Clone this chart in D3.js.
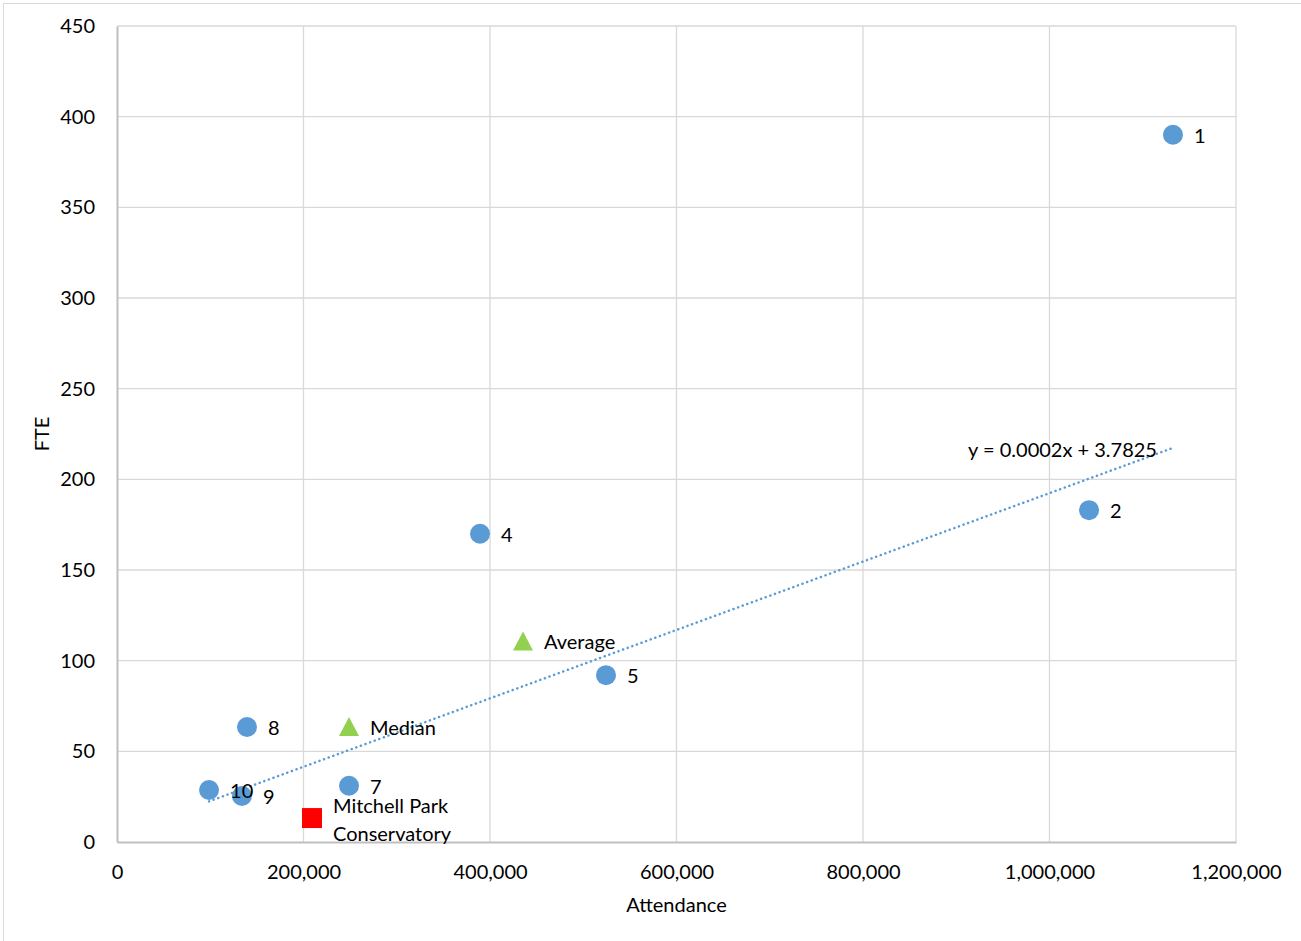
<!DOCTYPE html>
<meta charset="utf-8">
<title>FTE vs Attendance</title>
<script src="https://d3js.org/d3.v7.min.js"></script>
<style>
  body { margin: 0; background: #fff; }
  text { font-family: Lato, "Open Sans", sans-serif; fill: #000; }
</style>
<body>
<div id="chart"></div>
<script>

// peer institutions (attendance, FTE), labelled by rank
var peerLabels = ["1", "2", "4", "5", "8", "7", "10", "9"];
var peerAttendance = [1132400, 1042400, 389300, 524400, 139400, 248800, 98700, 134000];
var peerFTE = [390, 183, 170, 92, 63.4, 31, 28.7, 25.4];

// summary points
var statLabels = ["Average", "Median"];
var statAttendance = [435400, 248800];
var statFTE = [110.6, 63.4];

// the subject
var subjectLabel = ["Mitchell Park", "Conservatory"];
var subjectAttendance = 209100;
var subjectFTE = 13.2;

// linear trend
var trendSlope = 0.0001886, trendIntercept = 3.7825;
var trendText = "y = 0.0002x + 3.7825";

var xTicks = [0, 200000, 400000, 600000, 800000, 1000000, 1200000];
var yTicks = [0, 50, 100, 150, 200, 250, 300, 350, 400, 450];

var margin = { top: 26, right: 65, bottom: 99, left: 117 },
    width = 1301 - margin.left - margin.right,
    height = 941 - margin.top - margin.bottom;

var svgRoot = d3.select("#chart")
    .append("svg")
    .attr("width", 1301)
    .attr("height", 941);

// chart frame
svgRoot.append("rect")
    .attr("x", 3.5).attr("y", 3.5)
    .attr("width", 1310).attr("height", 950)
    .attr("fill", "none")
    .attr("stroke", "#d9d9d9");

var svg = svgRoot.append("g")
    .attr("transform", "translate(" + margin.left + "," + margin.top + ")");

var x = d3.scaleLinear().domain([0, 1200000]).range([0, width]);
var y = d3.scaleLinear().domain([0, 450]).range([height, 0]);

// gridlines
svg.append("g")
    .selectAll("line.v")
    .data(xTicks.slice(1))
    .enter().append("line")
    .attr("x1", function (d) { return x(d); })
    .attr("x2", function (d) { return x(d); })
    .attr("y1", 0).attr("y2", height)
    .attr("stroke", "#d9d9d9").attr("stroke-width", 1.3);

svg.append("g")
    .selectAll("line.h")
    .data(yTicks.slice(1))
    .enter().append("line")
    .attr("x1", 0).attr("x2", width)
    .attr("y1", function (d) { return y(d); })
    .attr("y2", function (d) { return y(d); })
    .attr("stroke", "#d9d9d9").attr("stroke-width", 1.3);

// axes
var fmt = d3.format(",");
var xAxis = svg.append("g")
    .attr("transform", "translate(0," + height + ")")
    .call(d3.axisBottom(x).tickValues(xTicks).tickFormat(fmt).tickSize(0).tickPadding(23));
var yAxis = svg.append("g")
    .call(d3.axisLeft(y).tickValues(yTicks).tickSize(0).tickPadding(22));

[xAxis, yAxis].forEach(function (a) {
    a.select(".domain").attr("stroke", "#bfbfbf").attr("stroke-width", 2);
    a.selectAll("text").style("font-size", "20px").attr("fill", "#000");
});

// axis titles
svg.append("text")
    .attr("x", width / 2).attr("y", height + 70)
    .attr("text-anchor", "middle")
    .style("font-size", "20px")
    .text("Attendance");

svg.append("text")
    .attr("transform", "translate(-68," + (height / 2) + ") rotate(-90)")
    .attr("text-anchor", "middle")
    .style("font-size", "20px")
    .text("FTE");

// trendline over the peer range
var xMin = d3.min(peerAttendance), xMax = d3.max(peerAttendance);
svg.append("line")
    .attr("x1", x(xMin)).attr("y1", y(trendSlope * xMin + trendIntercept))
    .attr("x2", x(xMax)).attr("y2", y(trendSlope * xMax + trendIntercept))
    .attr("stroke", "#5b9bd5")
    .attr("stroke-width", 2.5)
    .attr("stroke-linecap", "round")
    .attr("stroke-dasharray", "0.1 4.8");

svg.append("text")
    .attr("x", x(xMax) - 16).attr("y", y(trendSlope * xMax + trendIntercept) + 9)
    .attr("text-anchor", "end")
    .style("font-size", "20px")
    .text(trendText);

// peer points
var peers = peerLabels.map(function (l, i) {
    return { label: l, x: peerAttendance[i], y: peerFTE[i] };
});
svg.append("g").selectAll("circle")
    .data(peers).enter()
    .append("circle")
    .attr("cx", function (d) { return x(d.x); })
    .attr("cy", function (d) { return y(d.y); })
    .attr("r", 10)
    .attr("fill", "#5b9bd5");

svg.append("g").selectAll("text")
    .data(peers).enter()
    .append("text")
    .attr("x", function (d) { return x(d.x) + 21; })
    .attr("y", function (d) { return y(d.y) + 8; })
    .style("font-size", "20px")
    .text(function (d) { return d.label; });

// average / median
var stats = statLabels.map(function (l, i) {
    return { label: l, x: statAttendance[i], y: statFTE[i] };
});
svg.append("g").selectAll("path")
    .data(stats).enter()
    .append("path")
    .attr("d", "M0,-10 L10,9 L-10,9 Z")
    .attr("transform", function (d) { return "translate(" + x(d.x) + "," + y(d.y) + ")"; })
    .attr("fill", "#92d050");

svg.append("g").selectAll("text")
    .data(stats).enter()
    .append("text")
    .attr("x", function (d) { return x(d.x) + 21; })
    .attr("y", function (d) { return y(d.y) + 8; })
    .style("font-size", "20px")
    .text(function (d) { return d.label; });

// Mitchell Park
svg.append("rect")
    .attr("x", x(subjectAttendance) - 10)
    .attr("y", y(subjectFTE) - 10)
    .attr("width", 20).attr("height", 20)
    .attr("fill", "#ff0000");

svg.append("text")
    .selectAll("tspan")
    .data(subjectLabel).enter()
    .append("tspan")
    .attr("x", x(subjectAttendance) + 21)
    .attr("y", function (d, i) { return y(subjectFTE) - 5 + i * 28; })
    .style("font-size", "20px")
    .text(function (d) { return d; });

</script>
</body>
